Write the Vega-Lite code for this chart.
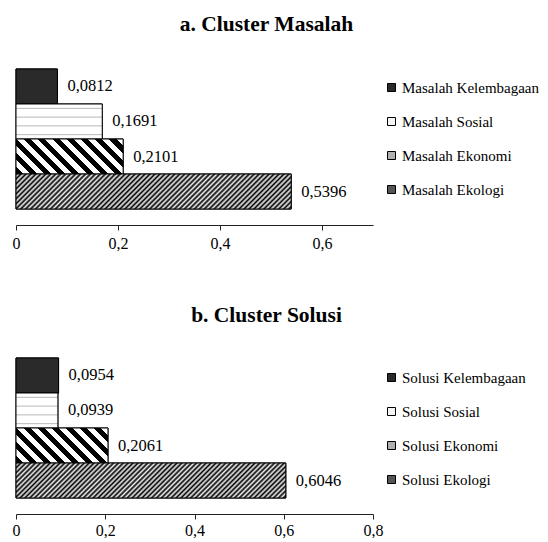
{
  "$schema": "https://vega.github.io/schema/vega-lite/v6.json",
  "background": "white",
  "padding": {"left": 12, "top": 13, "right": 0, "bottom": 0},
  "config": {
    "view": {"stroke": null},
    "font": "Liberation Serif, Times New Roman, DejaVu Serif, serif",
    "locale": {"number": {"decimal": ",", "thousands": ".", "grouping": [3], "currency": ["", ""]}}
  },
  "spacing": 53,
  "resolve": {"scale": {"color": "independent", "x": "independent", "y": "independent"}, "legend": {"color": "independent"}},
  "vconcat": [
    {
      "title": {"text": "a. Cluster Masalah", "font": "Liberation Serif, Times New Roman, DejaVu Serif, serif", "fontSize": 21.5, "fontWeight": "bold", "color": "black", "anchor": "middle", "frame": "group", "dx": 72, "offset": 18},
      "width": 357,
      "height": 172,
      "data": {"values": [
        {"cat": "Masalah Kelembagaan", "value": 0.0812},
        {"cat": "Masalah Sosial", "value": 0.1691},
        {"cat": "Masalah Ekonomi", "value": 0.2101},
        {"cat": "Masalah Ekologi", "value": 0.5396}
      ]},
      "encoding": {
        "y": {"field": "cat", "type": "nominal", "sort": ["Masalah Kelembagaan", "Masalah Sosial", "Masalah Ekonomi", "Masalah Ekologi"], "axis": null, "scale": {"paddingInner": 0, "paddingOuter": 0.457}},
        "x": {"field": "value", "type": "quantitative", "scale": {"domain": [0, 0.7], "nice": false},
          "axis": {"title": null, "grid": false, "values": [0, 0.2, 0.4, 0.6], "format": ".1f", "labelExpr": "datum.value === 0 ? '0' : replace(datum.label, '.', ',')", "labelFlush": false, "labelFont": "Liberation Serif, Times New Roman, DejaVu Serif, serif", "labelFontSize": 16, "labelColor": "black", "labelPadding": 5, "tickSize": 5, "tickColor": "#222", "domainColor": "#222"}}
      },
      "layer": [
        {"mark": {"type": "bar", "stroke": "black", "strokeWidth": 1},
         "encoding": {"color": {"field": "cat", "type": "nominal",
           "scale": {"domain": ["Masalah Kelembagaan", "Masalah Sosial", "Masalah Ekonomi", "Masalah Ekologi"], "range": ["#2a2a2a", "#f4f4f4", "#b0b0b0", "#555555"]},
           "legend": {"title": null, "orient": "none", "legendX": 368, "legendY": 27, "padding": 0, "symbolType": "square", "symbolSize": 64, "symbolStrokeColor": "black", "symbolStrokeWidth": 1, "labelFont": "Liberation Serif, Times New Roman, DejaVu Serif, serif", "labelFontSize": 15, "labelColor": "black", "labelOffset": 3, "rowPadding": 18, "labelLimit": 300}}}},
        {"mark": {"type": "bar", "stroke": "black", "strokeWidth": 1},
         "encoding": {"color": {"condition": [
           {"test": "datum.cat === 'Masalah Ekologi'", "value": {"gradient": "linear", "x1": 0, "y1": 0, "x2": 1.1092, "y2": 0.14107, "stops": [
{"offset":0,"color":"#000"},{"offset":0.008,"color":"#eee"},{"offset":0.016,"color":"#000"},{"offset":0.024,"color":"#eee"},{"offset":0.032,"color":"#000"},{"offset":0.04,"color":"#eee"},{"offset":0.048,"color":"#000"},{"offset":0.056,"color":"#eee"},{"offset":0.064,"color":"#000"},{"offset":0.072,"color":"#eee"},
{"offset":0.08,"color":"#000"},{"offset":0.088,"color":"#eee"},{"offset":0.096,"color":"#000"},{"offset":0.104,"color":"#eee"},{"offset":0.112,"color":"#000"},{"offset":0.12,"color":"#eee"},{"offset":0.128,"color":"#000"},{"offset":0.136,"color":"#eee"},{"offset":0.144,"color":"#000"},{"offset":0.152,"color":"#eee"},
{"offset":0.16,"color":"#000"},{"offset":0.168,"color":"#eee"},{"offset":0.176,"color":"#000"},{"offset":0.184,"color":"#eee"},{"offset":0.192,"color":"#000"},{"offset":0.2,"color":"#eee"},{"offset":0.208,"color":"#000"},{"offset":0.216,"color":"#eee"},{"offset":0.224,"color":"#000"},{"offset":0.232,"color":"#eee"},
{"offset":0.24,"color":"#000"},{"offset":0.248,"color":"#eee"},{"offset":0.256,"color":"#000"},{"offset":0.264,"color":"#eee"},{"offset":0.272,"color":"#000"},{"offset":0.28,"color":"#eee"},{"offset":0.288,"color":"#000"},{"offset":0.296,"color":"#eee"},{"offset":0.304,"color":"#000"},{"offset":0.312,"color":"#eee"},
{"offset":0.32,"color":"#000"},{"offset":0.328,"color":"#eee"},{"offset":0.336,"color":"#000"},{"offset":0.344,"color":"#eee"},{"offset":0.352,"color":"#000"},{"offset":0.36,"color":"#eee"},{"offset":0.368,"color":"#000"},{"offset":0.376,"color":"#eee"},{"offset":0.384,"color":"#000"},{"offset":0.392,"color":"#eee"},
{"offset":0.4,"color":"#000"},{"offset":0.408,"color":"#eee"},{"offset":0.416,"color":"#000"},{"offset":0.424,"color":"#eee"},{"offset":0.432,"color":"#000"},{"offset":0.44,"color":"#eee"},{"offset":0.448,"color":"#000"},{"offset":0.456,"color":"#eee"},{"offset":0.464,"color":"#000"},{"offset":0.472,"color":"#eee"},
{"offset":0.48,"color":"#000"},{"offset":0.488,"color":"#eee"},{"offset":0.496,"color":"#000"},{"offset":0.504,"color":"#eee"},{"offset":0.512,"color":"#000"},{"offset":0.52,"color":"#eee"},{"offset":0.528,"color":"#000"},{"offset":0.536,"color":"#eee"},{"offset":0.544,"color":"#000"},{"offset":0.552,"color":"#eee"},
{"offset":0.56,"color":"#000"},{"offset":0.568,"color":"#eee"},{"offset":0.576,"color":"#000"},{"offset":0.584,"color":"#eee"},{"offset":0.592,"color":"#000"},{"offset":0.6,"color":"#eee"},{"offset":0.608,"color":"#000"},{"offset":0.616,"color":"#eee"},{"offset":0.624,"color":"#000"},{"offset":0.632,"color":"#eee"},
{"offset":0.64,"color":"#000"},{"offset":0.648,"color":"#eee"},{"offset":0.656,"color":"#000"},{"offset":0.664,"color":"#eee"},{"offset":0.672,"color":"#000"},{"offset":0.68,"color":"#eee"},{"offset":0.688,"color":"#000"},{"offset":0.696,"color":"#eee"},{"offset":0.704,"color":"#000"},{"offset":0.712,"color":"#eee"},
{"offset":0.72,"color":"#000"},{"offset":0.728,"color":"#eee"},{"offset":0.736,"color":"#000"},{"offset":0.744,"color":"#eee"},{"offset":0.752,"color":"#000"},{"offset":0.76,"color":"#eee"},{"offset":0.768,"color":"#000"},{"offset":0.776,"color":"#eee"},{"offset":0.784,"color":"#000"},{"offset":0.792,"color":"#eee"},
{"offset":0.8,"color":"#000"},{"offset":0.808,"color":"#eee"},{"offset":0.816,"color":"#000"},{"offset":0.824,"color":"#eee"},{"offset":0.832,"color":"#000"},{"offset":0.84,"color":"#eee"},{"offset":0.848,"color":"#000"},{"offset":0.856,"color":"#eee"},{"offset":0.864,"color":"#000"},{"offset":0.872,"color":"#eee"},
{"offset":0.88,"color":"#000"},{"offset":0.888,"color":"#eee"},{"offset":0.896,"color":"#000"},{"offset":0.904,"color":"#eee"},{"offset":0.912,"color":"#000"},{"offset":0.92,"color":"#eee"},{"offset":0.928,"color":"#000"},{"offset":0.936,"color":"#eee"},{"offset":0.944,"color":"#000"},{"offset":0.952,"color":"#eee"},
{"offset":0.96,"color":"#000"},{"offset":0.968,"color":"#eee"},{"offset":0.976,"color":"#000"},{"offset":0.984,"color":"#eee"},{"offset":0.992,"color":"#000"},{"offset":1,"color":"#eee"}
           ]}},
           {"test": "datum.cat === 'Masalah Ekonomi'", "value": {"gradient": "linear", "x1": 0, "y1": 1, "x2": 1.1987, "y2": 0.60845, "stops": [
{"offset":0,"color":"#000"},{"offset":0.05,"color":"#000"},{"offset":0.05,"color":"#fff"},{"offset":0.1,"color":"#fff"},
{"offset":0.1,"color":"#000"},{"offset":0.15,"color":"#000"},{"offset":0.15,"color":"#fff"},{"offset":0.2,"color":"#fff"},
{"offset":0.2,"color":"#000"},{"offset":0.25,"color":"#000"},{"offset":0.25,"color":"#fff"},{"offset":0.3,"color":"#fff"},
{"offset":0.3,"color":"#000"},{"offset":0.35,"color":"#000"},{"offset":0.35,"color":"#fff"},{"offset":0.4,"color":"#fff"},
{"offset":0.4,"color":"#000"},{"offset":0.45,"color":"#000"},{"offset":0.45,"color":"#fff"},{"offset":0.5,"color":"#fff"},
{"offset":0.5,"color":"#000"},{"offset":0.55,"color":"#000"},{"offset":0.55,"color":"#fff"},{"offset":0.6,"color":"#fff"},
{"offset":0.6,"color":"#000"},{"offset":0.65,"color":"#000"},{"offset":0.65,"color":"#fff"},{"offset":0.7,"color":"#fff"},
{"offset":0.7,"color":"#000"},{"offset":0.75,"color":"#000"},{"offset":0.75,"color":"#fff"},{"offset":0.8,"color":"#fff"},
{"offset":0.8,"color":"#000"},{"offset":0.85,"color":"#000"},{"offset":0.85,"color":"#fff"},{"offset":0.9,"color":"#fff"},
{"offset":0.9,"color":"#000"},{"offset":0.95,"color":"#000"},{"offset":0.95,"color":"#fff"},{"offset":1,"color":"#fff"}
           ]}},
           {"test": "datum.cat === 'Masalah Sosial'", "value": {"gradient": "linear", "x1": 0, "y1": 0, "x2": 0, "y2": 1, "stops": [
{"offset":0,"color":"#fff"},{"offset":0.095,"color":"#fff"},{"offset":0.125,"color":"#bbb"},{"offset":0.155,"color":"#fff"},
{"offset":0.345,"color":"#fff"},{"offset":0.375,"color":"#bbb"},{"offset":0.405,"color":"#fff"},
{"offset":0.595,"color":"#fff"},{"offset":0.625,"color":"#bbb"},{"offset":0.655,"color":"#fff"},
{"offset":0.845,"color":"#fff"},{"offset":0.875,"color":"#bbb"},{"offset":0.905,"color":"#fff"},{"offset":1,"color":"#fff"}
           ]}}
         ], "value": "#2a2a2a"}}},
        {"mark": {"type": "text", "align": "left", "baseline": "middle", "dx": 10, "font": "Liberation Serif, Times New Roman, DejaVu Serif, serif", "fontSize": 16.5, "color": "black"},
         "encoding": {"text": {"field": "value", "type": "quantitative", "format": ".4f"}}}
      ]
    },
    {
      "title": {"text": "b. Cluster Solusi", "font": "Liberation Serif, Times New Roman, DejaVu Serif, serif", "fontSize": 21.5, "fontWeight": "bold", "color": "black", "anchor": "middle", "frame": "group", "dx": 72, "offset": 16},
      "width": 357,
      "height": 172,
      "data": {"values": [
        {"cat": "Solusi Kelembagaan", "value": 0.0954},
        {"cat": "Solusi Sosial", "value": 0.0939},
        {"cat": "Solusi Ekonomi", "value": 0.2061},
        {"cat": "Solusi Ekologi", "value": 0.6046}
      ]},
      "encoding": {
        "y": {"field": "cat", "type": "nominal", "sort": ["Solusi Kelembagaan", "Solusi Sosial", "Solusi Ekonomi", "Solusi Ekologi"], "axis": null, "scale": {"paddingInner": 0, "paddingOuter": 0.457}},
        "x": {"field": "value", "type": "quantitative", "scale": {"domain": [0, 0.8], "nice": false},
          "axis": {"title": null, "grid": false, "values": [0, 0.2, 0.4, 0.6, 0.8], "format": ".1f", "labelExpr": "datum.value === 0 ? '0' : replace(datum.label, '.', ',')", "labelFlush": false, "labelFont": "Liberation Serif, Times New Roman, DejaVu Serif, serif", "labelFontSize": 16, "labelColor": "black", "labelPadding": 3, "tickSize": 5, "tickColor": "#222", "domainColor": "#222"}}
      },
      "layer": [
        {"mark": {"type": "bar", "stroke": "black", "strokeWidth": 1},
         "encoding": {"color": {"field": "cat", "type": "nominal",
           "scale": {"domain": ["Solusi Kelembagaan", "Solusi Sosial", "Solusi Ekonomi", "Solusi Ekologi"], "range": ["#2a2a2a", "#f4f4f4", "#b0b0b0", "#555555"]},
           "legend": {"title": null, "orient": "none", "legendX": 368, "legendY": 28, "padding": 0, "symbolType": "square", "symbolSize": 64, "symbolStrokeColor": "black", "symbolStrokeWidth": 1, "labelFont": "Liberation Serif, Times New Roman, DejaVu Serif, serif", "labelFontSize": 15, "labelColor": "black", "labelOffset": 3, "rowPadding": 18, "labelLimit": 300}}}},
        {"mark": {"type": "bar", "stroke": "black", "strokeWidth": 1},
         "encoding": {"color": {"condition": [
           {"test": "datum.cat === 'Solusi Ekologi'", "value": {"gradient": "linear", "x1": 0, "y1": 0, "x2": 1.111, "y2": 0.14413, "stops": [
{"offset":0,"color":"#000"},{"offset":0.008,"color":"#eee"},{"offset":0.016,"color":"#000"},{"offset":0.024,"color":"#eee"},{"offset":0.032,"color":"#000"},{"offset":0.04,"color":"#eee"},{"offset":0.048,"color":"#000"},{"offset":0.056,"color":"#eee"},{"offset":0.064,"color":"#000"},{"offset":0.072,"color":"#eee"},
{"offset":0.08,"color":"#000"},{"offset":0.088,"color":"#eee"},{"offset":0.096,"color":"#000"},{"offset":0.104,"color":"#eee"},{"offset":0.112,"color":"#000"},{"offset":0.12,"color":"#eee"},{"offset":0.128,"color":"#000"},{"offset":0.136,"color":"#eee"},{"offset":0.144,"color":"#000"},{"offset":0.152,"color":"#eee"},
{"offset":0.16,"color":"#000"},{"offset":0.168,"color":"#eee"},{"offset":0.176,"color":"#000"},{"offset":0.184,"color":"#eee"},{"offset":0.192,"color":"#000"},{"offset":0.2,"color":"#eee"},{"offset":0.208,"color":"#000"},{"offset":0.216,"color":"#eee"},{"offset":0.224,"color":"#000"},{"offset":0.232,"color":"#eee"},
{"offset":0.24,"color":"#000"},{"offset":0.248,"color":"#eee"},{"offset":0.256,"color":"#000"},{"offset":0.264,"color":"#eee"},{"offset":0.272,"color":"#000"},{"offset":0.28,"color":"#eee"},{"offset":0.288,"color":"#000"},{"offset":0.296,"color":"#eee"},{"offset":0.304,"color":"#000"},{"offset":0.312,"color":"#eee"},
{"offset":0.32,"color":"#000"},{"offset":0.328,"color":"#eee"},{"offset":0.336,"color":"#000"},{"offset":0.344,"color":"#eee"},{"offset":0.352,"color":"#000"},{"offset":0.36,"color":"#eee"},{"offset":0.368,"color":"#000"},{"offset":0.376,"color":"#eee"},{"offset":0.384,"color":"#000"},{"offset":0.392,"color":"#eee"},
{"offset":0.4,"color":"#000"},{"offset":0.408,"color":"#eee"},{"offset":0.416,"color":"#000"},{"offset":0.424,"color":"#eee"},{"offset":0.432,"color":"#000"},{"offset":0.44,"color":"#eee"},{"offset":0.448,"color":"#000"},{"offset":0.456,"color":"#eee"},{"offset":0.464,"color":"#000"},{"offset":0.472,"color":"#eee"},
{"offset":0.48,"color":"#000"},{"offset":0.488,"color":"#eee"},{"offset":0.496,"color":"#000"},{"offset":0.504,"color":"#eee"},{"offset":0.512,"color":"#000"},{"offset":0.52,"color":"#eee"},{"offset":0.528,"color":"#000"},{"offset":0.536,"color":"#eee"},{"offset":0.544,"color":"#000"},{"offset":0.552,"color":"#eee"},
{"offset":0.56,"color":"#000"},{"offset":0.568,"color":"#eee"},{"offset":0.576,"color":"#000"},{"offset":0.584,"color":"#eee"},{"offset":0.592,"color":"#000"},{"offset":0.6,"color":"#eee"},{"offset":0.608,"color":"#000"},{"offset":0.616,"color":"#eee"},{"offset":0.624,"color":"#000"},{"offset":0.632,"color":"#eee"},
{"offset":0.64,"color":"#000"},{"offset":0.648,"color":"#eee"},{"offset":0.656,"color":"#000"},{"offset":0.664,"color":"#eee"},{"offset":0.672,"color":"#000"},{"offset":0.68,"color":"#eee"},{"offset":0.688,"color":"#000"},{"offset":0.696,"color":"#eee"},{"offset":0.704,"color":"#000"},{"offset":0.712,"color":"#eee"},
{"offset":0.72,"color":"#000"},{"offset":0.728,"color":"#eee"},{"offset":0.736,"color":"#000"},{"offset":0.744,"color":"#eee"},{"offset":0.752,"color":"#000"},{"offset":0.76,"color":"#eee"},{"offset":0.768,"color":"#000"},{"offset":0.776,"color":"#eee"},{"offset":0.784,"color":"#000"},{"offset":0.792,"color":"#eee"},
{"offset":0.8,"color":"#000"},{"offset":0.808,"color":"#eee"},{"offset":0.816,"color":"#000"},{"offset":0.824,"color":"#eee"},{"offset":0.832,"color":"#000"},{"offset":0.84,"color":"#eee"},{"offset":0.848,"color":"#000"},{"offset":0.856,"color":"#eee"},{"offset":0.864,"color":"#000"},{"offset":0.872,"color":"#eee"},
{"offset":0.88,"color":"#000"},{"offset":0.888,"color":"#eee"},{"offset":0.896,"color":"#000"},{"offset":0.904,"color":"#eee"},{"offset":0.912,"color":"#000"},{"offset":0.92,"color":"#eee"},{"offset":0.928,"color":"#000"},{"offset":0.936,"color":"#eee"},{"offset":0.944,"color":"#000"},{"offset":0.952,"color":"#eee"},
{"offset":0.96,"color":"#000"},{"offset":0.968,"color":"#eee"},{"offset":0.976,"color":"#000"},{"offset":0.984,"color":"#eee"},{"offset":0.992,"color":"#000"},{"offset":1,"color":"#eee"}
           ]}},
           {"test": "datum.cat === 'Solusi Ekonomi'", "value": {"gradient": "linear", "x1": 0, "y1": 1, "x2": 1.2059, "y2": 0.54108, "stops": [
{"offset":0,"color":"#000"},{"offset":0.0556,"color":"#000"},{"offset":0.0556,"color":"#fff"},{"offset":0.1111,"color":"#fff"},
{"offset":0.1111,"color":"#000"},{"offset":0.1667,"color":"#000"},{"offset":0.1667,"color":"#fff"},{"offset":0.2222,"color":"#fff"},
{"offset":0.2222,"color":"#000"},{"offset":0.2778,"color":"#000"},{"offset":0.2778,"color":"#fff"},{"offset":0.3333,"color":"#fff"},
{"offset":0.3333,"color":"#000"},{"offset":0.3889,"color":"#000"},{"offset":0.3889,"color":"#fff"},{"offset":0.4444,"color":"#fff"},
{"offset":0.4444,"color":"#000"},{"offset":0.5,"color":"#000"},{"offset":0.5,"color":"#fff"},{"offset":0.5556,"color":"#fff"},
{"offset":0.5556,"color":"#000"},{"offset":0.6111,"color":"#000"},{"offset":0.6111,"color":"#fff"},{"offset":0.6667,"color":"#fff"},
{"offset":0.6667,"color":"#000"},{"offset":0.7222,"color":"#000"},{"offset":0.7222,"color":"#fff"},{"offset":0.7778,"color":"#fff"},
{"offset":0.7778,"color":"#000"},{"offset":0.8333,"color":"#000"},{"offset":0.8333,"color":"#fff"},{"offset":0.8889,"color":"#fff"},
{"offset":0.8889,"color":"#000"},{"offset":0.9444,"color":"#000"},{"offset":0.9444,"color":"#fff"},{"offset":1,"color":"#fff"}
           ]}},
           {"test": "datum.cat === 'Solusi Sosial'", "value": {"gradient": "linear", "x1": 0, "y1": 0, "x2": 0, "y2": 1, "stops": [
{"offset":0,"color":"#fff"},{"offset":0.095,"color":"#fff"},{"offset":0.125,"color":"#bbb"},{"offset":0.155,"color":"#fff"},
{"offset":0.345,"color":"#fff"},{"offset":0.375,"color":"#bbb"},{"offset":0.405,"color":"#fff"},
{"offset":0.595,"color":"#fff"},{"offset":0.625,"color":"#bbb"},{"offset":0.655,"color":"#fff"},
{"offset":0.845,"color":"#fff"},{"offset":0.875,"color":"#bbb"},{"offset":0.905,"color":"#fff"},{"offset":1,"color":"#fff"}
           ]}}
         ], "value": "#2a2a2a"}}},
        {"mark": {"type": "text", "align": "left", "baseline": "middle", "dx": 10, "font": "Liberation Serif, Times New Roman, DejaVu Serif, serif", "fontSize": 16.5, "color": "black"},
         "encoding": {"text": {"field": "value", "type": "quantitative", "format": ".4f"}}}
      ]
    }
  ]
}
